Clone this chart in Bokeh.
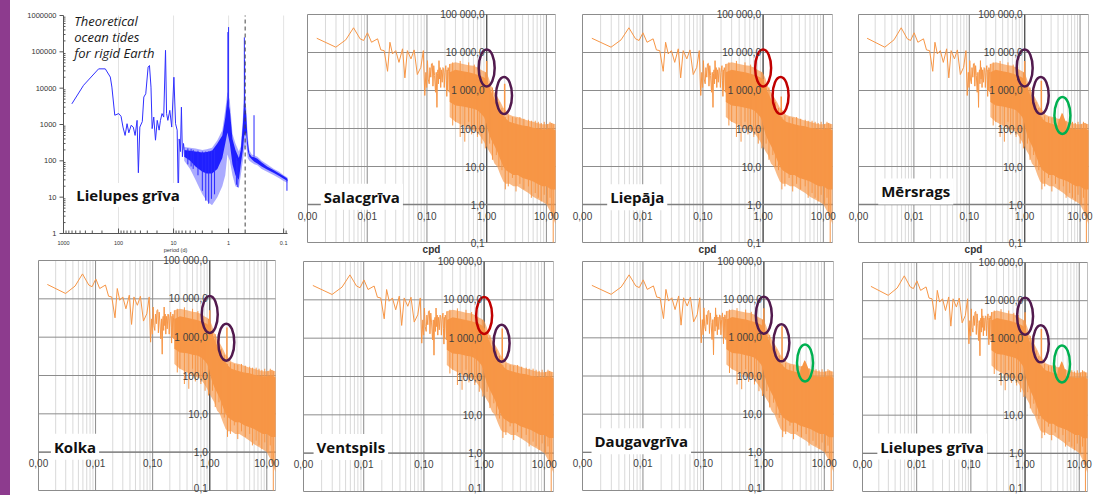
import math
from bokeh.plotting import figure
from bokeh.models import Range1d, Grid, Label, ColumnDataSource, Div
from bokeh.layouts import row, column
from bokeh.embed import file_html
from bokeh.resources import INLINE
from bokeh.core.properties import value

# ---------------- data: observed spectra (orange panels) ----------------
ORANGE_LF_F = [0.00143, 0.00298, 0.00437, 0.0059, 0.0076, 0.0087, 0.0101, 0.0118, 0.0149,
               0.0169, 0.0192, 0.0219, 0.024, 0.0265, 0.030, 0.034, 0.039, 0.0427, 0.047,
               0.054, 0.061, 0.069, 0.079, 0.087, 0.092, 0.096, 0.099, 0.102, 0.105, 0.109,
               0.112, 0.116, 0.119, 0.123, 0.126, 0.13, 0.134, 0.139, 0.143, 0.147, 0.15,
               0.153, 0.156, 0.159, 0.163, 0.166, 0.17, 0.174, 0.18, 0.185, 0.19, 0.195, 0.2,
               0.207, 0.211, 0.215, 0.218, 0.22, 0.226, 0.232, 0.236, 0.24]
ORANGE_LF_V = [23700, 13800, 21500, 44700, 22900, 20700, 33000, 18600, 22900,
               11700, 11200, 3200, 18600, 9200, 11200, 5500, 12500, 2150, 11200,
               6800, 11700, 2630, 4070, 11200, 740, 3000, 1200, 6100, 2000, 1500,
               4000, 2240, 5000, 5200, 1300, 4500, 2500, 900, 3000, 360, 2800,
               3500, 1500, 6100, 2000, 4000, 1200, 3500, 1650, 4000, 3800, 1200, 3000,
               4500, 1800, 700, 3500, 1000, 4000, 3200, 900, 5000]

BAND_F = [0.24, 0.3, 0.4, 0.5, 0.6, 0.7, 0.8, 0.9, 0.97, 1.03, 1.1, 1.2, 1.35, 1.5,
          1.7, 1.9, 2.1, 2.4, 2.8, 3.3, 4.0, 5.0, 6.0, 7.0, 8.5, 10.0, 12.0, 14.2]
BAND_OUT_HI = [5000, 5500, 5000, 4600, 4500, 4000, 3500, 3200, 3000, 2600, 2000, 1300, 900, 700,
               500, 350, 300, 230, 210, 200, 180, 160, 150, 140, 130, 130, 140, 130]
BAND_CORE_HI = [3000, 3500, 3200, 3000, 2800, 2600, 2400, 2200, 2000, 1700, 1300, 900, 600, 450,
                300, 220, 180, 150, 140, 130, 120, 115, 105, 100, 95, 95, 100, 90]
BAND_CORE_LO = [500, 400, 380, 350, 330, 300, 250, 200, 150, 100, 70, 50, 35, 25,
                15, 10, 8, 7, 6, 6, 5, 4.5, 4, 3.5, 3, 3, 2.5, 2.5]
BAND_OUT_LO = [200, 150, 120, 100, 90, 80, 60, 45, 35, 30, 25, 20, 12, 10,
               6, 4, 3.5, 3.5, 3, 3, 2.5, 2, 1.6, 1.4, 1.2, 1, 0.6, 0.3]

SPK_F = [0.27, 0.3, 0.36, 0.43, 0.5, 0.56, 0.62, 0.7, 0.75, 0.83, 0.95, 1.12, 1.25, 1.45,
         1.6, 1.8, 2.05, 2.3, 2.7, 3.1, 3.6, 4.2, 5.0, 5.6, 6.5, 7.3, 8.2, 9.2, 10.5, 11.5,
         12.3, 13.0]
SPK_TOP = [5500, 3000, 6000, 2800, 5500, 2500, 4800, 2300, 4200, 2000, 3000, 1500, 1200, 1000,
           500, 350, 200, 220, 200, 190, 200, 180, 170, 160, 160, 150, 140, 150, 130, 150,
           140, 130]
SPK_BOT = [120, 150, 60, 45, 150, 70, 100, 60, 90, 40, 30, 40, 15, 20,
           10, 8, 2.5, 3, 5, 2.2, 3.5, 2.5, 3, 1.5, 2, 1.5, 1.2, 1.8, 1, 1.5,
           0.5, 0.1]

HUMP_F = [4.0, 4.4, 4.7, 4.9, 5.2, 5.6]
HUMP_HI = [140, 200, 260, 240, 190, 140]
HUMP_LO = [60, 60, 60, 60, 60, 60]

TIDE_F = [1.0, 2.0]
TIDE_BASE = [1500, 250]

CIRCLE_F = [1.0, 1.95, 4.8]
CIRCLE_V = [3900, 740, 220]

X_TICKS = [0.001, 0.01, 0.1, 1, 10]
X_LABELS = ["0,00", "0,01", "0,10", "1,00", "10,00"]
Y_TICKS = [0.1, 1, 10, 100, 1000, 10000, 100000]
Y_LABELS = ["0,1", "1,0", "10,0", "100,0", "1 000,0", "10 000,0", "100 000,0"]
AXIS_NAME = "cpd"

# ---------------- data: theoretical tides (blue panel) ----------------
BLUE_LINE_P = [705, 432, 230, 174, 141, 132, 117, 99, 90, 83, 76, 70, 65, 59, 54, 50, 46,
               43.6, 41, 37, 34.7, 32, 29, 27.4, 25.7, 24.5, 22.9, 21.3, 19.8, 18.3, 17.3,
               16.2, 15.1, 14.0, 13.4, 12.7, 11.7, 10.8, 9.86, 9.2, 8.6, 8.2, 7.9, 7.5,
               7.2, 6.9, 6.6, 6.4]
BLUE_LINE_V = [3700, 12000, 34000, 34000, 20200, 10700, 1800, 2000, 1680, 850, 500, 1050,
               590, 950, 850, 500, 1300, 47, 850, 1200, 5700, 7000, 38000, 42000, 10700,
               770, 1600, 370, 1300, 700, 1300, 2000, 1600, 110000, 2000, 1300, 2450, 850,
               20000, 1050, 700, 8.3, 400, 180, 3000, 130, 300, 200]

B_P = [6.4, 5, 4, 3, 2.5, 2, 1.6, 1.3, 1.15, 1.05, 0.95, 0.85, 0.75, 0.65, 0.6, 0.55,
       0.52, 0.48, 0.45, 0.42, 0.38, 0.34, 0.3, 0.25, 0.2, 0.15, 0.12, 0.1, 0.085]
B_OUT_HI = [240, 230, 220, 200, 210, 230, 370, 700, 2500, 8000, 4600, 560, 300, 180, 250, 1500,
            8000, 3000, 500, 200, 150, 140, 130, 100, 80, 60, 50, 40, 35]
B_OUT_LO = [100, 60, 30, 12, 8, 6, 10, 20, 40, 150, 100, 40, 20, 18, 40, 100,
            200, 300, 120, 100, 90, 80, 75, 60, 50, 40, 33, 28, 25]
B_CORE_HI = [200, 190, 180, 170, 175, 190, 300, 500, 1500, 5000, 2500, 400, 200, 120, 200, 1000,
             5000, 2000, 350, 160, 130, 125, 115, 90, 70, 55, 45, 38, 32]
B_CORE_LO = [130, 100, 70, 50, 45, 45, 60, 120, 300, 600, 300, 80, 40, 30, 80, 200,
             500, 600, 200, 130, 110, 95, 85, 70, 58, 46, 38, 32, 28]

BS_P = [1.0, 1.03, 0.517, 0.51, 0.345, 4.4, 3.6, 3.0, 2.6, 2.3, 2.05, 1.8, 0.68, 0.72,
        0.087, 5.5, 4.8]
BS_TOP = [480000, 350000, 250000, 60000, 1800, 200, 190, 180, 180, 180, 190, 200, 100, 120,
          30, 220, 210]
BS_BOT = [3000, 3000, 3000, 2000, 130, 60, 40, 15, 8, 6.6, 9, 12, 19, 22, 15, 80, 70]

P_LEFT, P_RIGHT = 1000, 0.085
V_BOTTOM, V_TOP = 1, 1000000
P_TICKS = [1000, 100, 10, 1, 0.1]
P_LABELS = ["1000", "100", "10", "1", "0.1"]
V_TICKS = [1, 10, 100, 1000, 10000, 100000, 1000000]
V_LABELS = ["1", "10", "100", "1000", "10000", "100000", "1000000"]
P_AXIS_NAME = "period (d)"
DASH_P = [0.5]
THEO_TEXT = ["Theoretical", "ocean tides", "for rigid Earth"]
THEO_TEXT_V = [690000, 254000, 92000]

# ---------------- panels ----------------
PURPLE = "#521A4E"
RED = "#C00000"
GREEN = "#00B050"
ORANGE = "#F79646"

PANELS = [
    # plot-area insets inside each figure: (left, right, top, bottom) in px
    dict(name="Salacgrīva", w=273, h=255, b=(10, 15, 14, 13), col=[PURPLE, PURPLE],
         peaks=[6000, 1500], hump=False, tx=0.00167, ty=1.6, cpd=True, lift=0),
    dict(name="Liepāja", w=276, h=255, b=(12, 14, 14, 13), col=[RED, RED],
         peaks=[2000, 700], hump=False, tx=0.00257, ty=1.55, cpd=True, lift=0),
    dict(name="Mērsrags", w=251, h=255, b=(12, 9, 14, 13), col=[PURPLE, PURPLE, GREEN],
         peaks=[6000, 1800], hump=True, tx=0.00227, ty=2.2, cpd=True, lift=0),
    dict(name="Kolka", w=280, h=240, b=(28, 15, 5, 5), col=[PURPLE, PURPLE],
         peaks=[5000, 1800], hump=False, tx=0.00165, ty=1.39, cpd=False, lift=-3),
    dict(name="Ventspils", w=280, h=240, b=(13, 17, 6, 4), col=[RED, PURPLE],
         peaks=[1800, 1800], hump=False, tx=0.00147, ty=1.45, cpd=False, lift=-4),
    dict(name="Daugavgrīva", w=278, h=240, b=(12, 15, 6, 5), col=[PURPLE, PURPLE, GREEN],
         peaks=[6000, 2000], hump=True, tx=0.00141, ty=1.95, cpd=False, lift=-3),
    dict(name="Lielupes grīva", w=249, h=240, b=(14, 10, 7, 4), col=[PURPLE, PURPLE, GREEN],
         peaks=[5000, 1800], hump=True, tx=0.00188, ty=1.51, cpd=False, lift=-4),
]

X_MIN, X_MAX = 0.001, 14.2
Y_MIN, Y_MAX = 0.1, 100000


def minors(decades, upper):
    out = []
    for d in decades:
        for k in range(2, 10):
            if k * d < upper:
                out.append(k * d)
    return out


def padded(lo, hi, px_lo, px_hi, length):
    """Log range whose values lo..hi sit px_lo / px_hi pixels inside the frame edges."""
    a, b = math.log10(lo), math.log10(hi)
    per = (length - px_lo - px_hi) / (b - a)
    return Range1d(10 ** (a - px_lo / per), 10 ** (b + px_hi / per))


def bare_figure(w, h, xr, yr):
    p = figure(width=w, height=h, x_axis_type="log", y_axis_type="log",
               x_range=xr, y_range=yr, x_axis_location=None, y_axis_location=None,
               min_border=0, min_border_left=0, min_border_right=0,
               min_border_top=0, min_border_bottom=0,
               toolbar_location=None, output_backend="svg",
               background_fill_color="white", border_fill_color="white",
               outline_line_color=None)
    p.center = [c for c in p.center if not isinstance(c, Grid)]
    return p


def orange_panel(s):
    l, r, t, b = s["b"]
    p = bare_figure(s["w"], s["h"], padded(X_MIN, X_MAX, l, r, s["w"]),
                    padded(Y_MIN, Y_MAX, b, t, s["h"]))

    xm = minors(X_TICKS, X_MAX)
    p.segment(x0=xm, y0=[Y_MIN] * len(xm), x1=xm, y1=[Y_MAX] * len(xm),
              line_color="#D9D9D9", line_width=1)
    p.segment(x0=X_TICKS + [X_MAX], y0=[Y_MIN] * 6, x1=X_TICKS + [X_MAX], y1=[Y_MAX] * 6,
              line_color=["#8C8C8C"] * 5 + ["#BFBFBF"], line_width=1)
    p.segment(x0=[X_MIN] * len(Y_TICKS), y0=Y_TICKS, x1=[X_MAX] * len(Y_TICKS), y1=Y_TICKS,
              line_color="#8C8C8C", line_width=1)
    p.segment(x0=[1, X_MIN], y0=[Y_MIN, 1], x1=[1, X_MAX], y1=[Y_MAX, 1],
              line_color=["#555555", "#7F7F7F"], line_width=1.3)

    p.varea(x=BAND_F, y1=BAND_OUT_LO, y2=BAND_OUT_HI, fill_color=ORANGE, fill_alpha=0.65)
    p.varea(x=BAND_F, y1=BAND_CORE_LO, y2=BAND_CORE_HI, fill_color=ORANGE, fill_alpha=1.0)
    p.segment(x0=SPK_F, y0=SPK_BOT, x1=SPK_F, y1=SPK_TOP, line_color=ORANGE, line_width=1)
    p.line(ORANGE_LF_F, ORANGE_LF_V, line_color=ORANGE, line_width=1)
    p.segment(x0=TIDE_F, y0=TIDE_BASE, x1=TIDE_F, y1=s["peaks"], line_color=ORANGE, line_width=1.5)
    if s["hump"]:
        p.varea(x=HUMP_F, y1=HUMP_LO, y2=HUMP_HI, fill_color=ORANGE)

    n = len(s["col"])
    p.ellipse(x=CIRCLE_F[:n], y=CIRCLE_V[:n], width=16, height=37,
              width_units="screen", height_units="screen",
              fill_color=None, line_color=s["col"], line_width=2.5)

    lift = [s["lift"]] + [0] * (len(Y_TICKS) - 1)
    ysrc = ColumnDataSource(dict(x=[1] * len(Y_TICKS), y=Y_TICKS, text=Y_LABELS, dy=lift))
    p.text(x="x", y="y", text="text", source=ysrc, x_offset=-2, y_offset="dy",
           text_align="right", text_baseline="middle",
           text_font=value("Liberation Sans"), text_font_size="10px", text_color="#3F3F3F")
    xsrc = ColumnDataSource(dict(x=X_TICKS, y=[1] * len(X_TICKS), text=X_LABELS))
    p.text(x="x", y="y", text="text", source=xsrc, y_offset=7,
           text_align="center", text_baseline="top",
           text_font=value("Liberation Sans"), text_font_size="10px", text_color="#3F3F3F")
    p.add_layout(Label(x=s["tx"], y=s["ty"], text=s["name"], text_font="Open Sans",
                       text_font_size="15px", text_font_style="bold", text_color="#111111",
                       text_baseline="alphabetic", background_fill_color="white", padding=3))
    if s["cpd"]:
        p.text(x=[(X_MIN * X_MAX) ** 0.5], y=[Y_MIN], text=[AXIS_NAME], y_offset=7,
               text_font=value("Liberation Sans"), text_font_size="10px",
               text_font_style="bold", text_color="#333333",
               text_align="center", text_baseline="alphabetic")
    return p


# ---------------- theoretical panel (axes drawn in its own value space) ----------------
p1 = bare_figure(287, 255, padded(P_LEFT, P_RIGHT, 53, 10, 287),
                 padded(V_BOTTOM, V_TOP, 22, 15, 255))
AX = "#555555"
p1.segment(x0=P_TICKS[1:], y0=[V_BOTTOM] * 4, x1=P_TICKS[1:], y1=[V_TOP] * 4,
           line_color="#E3E3E3", line_width=1)
p1.varea(x=B_P, y1=B_OUT_LO, y2=B_OUT_HI, fill_color="#9C9CFF", fill_alpha=0.85)
p1.varea(x=B_P, y1=B_CORE_LO, y2=B_CORE_HI, fill_color="#1F1FFF")
p1.segment(x0=BS_P, y0=BS_BOT, x1=BS_P, y1=BS_TOP, line_color="#2A2AFF", line_width=1)
p1.line(BLUE_LINE_P, BLUE_LINE_V, line_color="#3030FF", line_width=1)
p1.segment(x0=DASH_P, y0=[V_BOTTOM], x1=DASH_P, y1=[V_TOP], line_color="#444444",
           line_width=1, line_dash="4 3")

# axis lines
p1.segment(x0=[P_LEFT, P_LEFT], y0=[V_BOTTOM, V_BOTTOM], x1=[P_LEFT, P_RIGHT], y1=[V_TOP, V_BOTTOM],
           line_color=AX, line_width=1)
# y ticks (major outward, minor inward)
p1.ray(x=[P_LEFT] * len(V_TICKS), y=V_TICKS, length=4, length_units="screen",
       angle=math.pi, line_color=AX, line_width=1)
vm = minors(V_TICKS[:-1], V_TOP)
p1.ray(x=[P_LEFT] * len(vm), y=vm, length=2, length_units="screen", angle=0,
       line_color=AX, line_width=1)
# x ticks (inward, pointing up)
p1.ray(x=P_TICKS, y=[V_BOTTOM] * len(P_TICKS), length=5, length_units="screen",
       angle=math.pi / 2, line_color=AX, line_width=1)
pm = minors([100, 10, 1, 0.01], P_LEFT)
pm = [v for v in pm if v > P_RIGHT]
p1.ray(x=pm, y=[V_BOTTOM] * len(pm), length=3, length_units="screen", angle=math.pi / 2,
       line_color=AX, line_width=1)
p1.text(x=[P_LEFT] * len(V_TICKS), y=V_TICKS, text=V_LABELS, x_offset=-7,
        text_align="right", text_baseline="middle", text_font=value("Liberation Sans"),
        text_font_size="7.5px", text_color="#333333")
p1.text(x=P_TICKS, y=[V_BOTTOM] * len(P_TICKS), text=P_LABELS, y_offset=7,
        text_align="center", text_baseline="top", text_font=value("Liberation Sans"),
        text_font_size="5.5px", text_color="#333333")
p1.text(x=[(P_LEFT * P_RIGHT) ** 0.5], y=[V_BOTTOM], text=[P_AXIS_NAME], y_offset=13,
        text_align="center", text_baseline="top", text_font=value("Liberation Sans"),
        text_font_size="5.5px", text_color="#333333")

p1.text(x=[638] * 3, y=THEO_TEXT_V, text=THEO_TEXT, text_font=value("Open Sans"),
        text_font_size="13px", text_font_style="italic", text_color="#1A1A1A",
        text_baseline="alphabetic")
p1.add_layout(Label(x=638, y=11.4, text="Lielupes grīva", text_font="Open Sans",
                    text_font_size="15px", text_font_style="bold", text_color="#111111",
                    text_baseline="alphabetic", background_fill_color="white", padding=2))

figs = [orange_panel(s) for s in PANELS]

stripe = Div(text="", width=10, height=495, margin=(0, 0, 0, 0),
             styles={"background-color": "#8D3B8E"})
grid = column(row(p1, figs[0], figs[1], figs[2]), row(figs[3], figs[4], figs[5], figs[6]))
root = row(stripe, grid)

open("out.html", "w").write(file_html(root, INLINE))
